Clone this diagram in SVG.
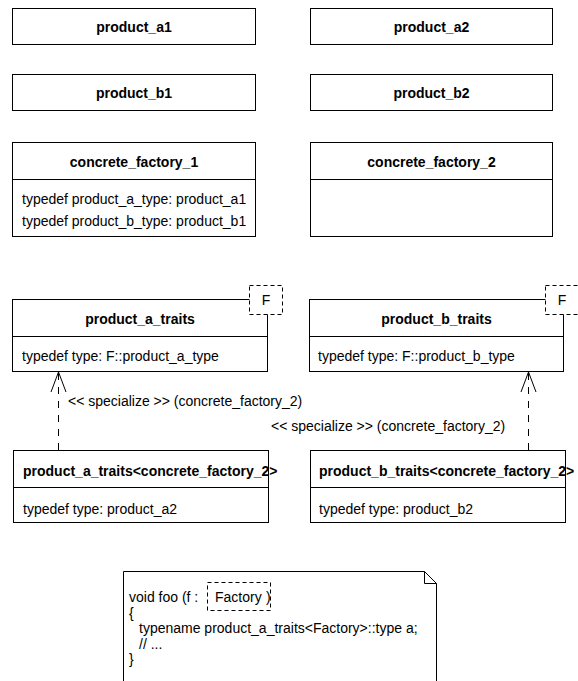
<svg xmlns="http://www.w3.org/2000/svg" width="578" height="681" viewBox="0 0 578 681">
<style>
.box{fill:#fff;stroke:#000;stroke-width:1}
.ln{fill:none;stroke:#000;stroke-width:1}
.dash{fill:#fff;stroke:#000;stroke-width:1;stroke-dasharray:4,3}
.dl{fill:none;stroke:#000;stroke-width:1;stroke-dasharray:7,7}
text{font-family:"Liberation Sans",Arial,sans-serif;font-size:14px;fill:#000}
.t{font-weight:bold;text-anchor:middle}
.tb{font-weight:bold}
</style>
<rect width="578" height="681" fill="#fff"/>
<g id="product_a1"><rect class="box" x="12.5" y="8.5" width="243" height="36"/><text class="t" x="134" y="32">product_a1</text></g>
<g id="product_a2"><rect class="box" x="310.5" y="8.5" width="242" height="36"/><text class="t" x="431.5" y="32">product_a2</text></g>
<g id="product_b1"><rect class="box" x="12.5" y="74.5" width="243" height="36"/><text class="t" x="134" y="98">product_b1</text></g>
<g id="product_b2"><rect class="box" x="310.5" y="74.5" width="242" height="36"/><text class="t" x="431.5" y="98">product_b2</text></g>
<g id="concrete_factory_1"><rect class="box" x="12.5" y="142.5" width="243" height="94"/><line class="ln" x1="12.5" y1="179.5" x2="255.5" y2="179.5"/><text class="t" x="134" y="167">concrete_factory_1</text><text x="22" y="204">typedef product_a_type: product_a1</text><text x="22" y="226">typedef product_b_type: product_b1</text></g>
<g id="concrete_factory_2"><rect class="box" x="310.5" y="142.5" width="242" height="94"/><line class="ln" x1="310.5" y1="179.5" x2="552.5" y2="179.5"/><text class="t" x="431.5" y="167">concrete_factory_2</text></g>
<g id="product_a_traits"><rect class="box" x="12.5" y="299.5" width="255" height="72"/><line class="ln" x1="12.5" y1="336.5" x2="267.5" y2="336.5"/><rect class="dash" x="249.5" y="285.5" width="33" height="29"/><text x="266" y="305" text-anchor="middle">F</text><text class="t" x="140" y="324">product_a_traits</text><text x="22" y="361">typedef type: F::product_a_type</text></g>
<g id="product_b_traits"><rect class="box" x="309.5" y="299.5" width="254" height="72"/><line class="ln" x1="309.5" y1="336.5" x2="563.5" y2="336.5"/><rect class="dash" x="545.5" y="285.5" width="33" height="29"/><text x="562" y="305" text-anchor="middle">F</text><text class="t" x="436.5" y="324">product_b_traits</text><text x="318" y="361">typedef type: F::product_b_type</text></g>
<g id="product_a_traits_cf2"><rect class="box" x="13.5" y="450.5" width="255" height="72"/><line class="ln" x1="13.5" y1="487.5" x2="268.5" y2="487.5"/><text class="tb" x="23" y="476">product_a_traits&lt;concrete_factory_2&gt;</text><text x="23" y="514">typedef type: product_a2</text></g>
<g id="product_b_traits_cf2"><rect class="box" x="310.5" y="450.5" width="255" height="72"/><line class="ln" x1="310.5" y1="487.5" x2="565.5" y2="487.5"/><text class="tb" x="319" y="476">product_b_traits&lt;concrete_factory_2&gt;</text><text x="319" y="514">typedef type: product_b2</text></g>
<g id="connectors">
<line class="dl" x1="58.5" y1="450" x2="58.5" y2="373"/>
<polyline class="ln" points="51,392 58.5,372 66,392"/>
<text x="68" y="406">&lt;&lt; specialize &gt;&gt; (concrete_factory_2)</text>
<line class="dl" x1="528.5" y1="450" x2="528.5" y2="373"/>
<polyline class="ln" points="521,392 528.5,372 536,392"/>
<text x="271" y="431">&lt;&lt; specialize &gt;&gt; (concrete_factory_2)</text>
</g>
<g id="note">
<path class="box" d="M123.5,690 V571.5 H424.5 L436.5,583.5 V690"/>
<polyline class="ln" points="424.5,571.5 424.5,583.5 436.5,583.5"/>
<rect class="dash" x="207.5" y="582.5" width="63" height="28"/>
<text x="129" y="602">void foo (f :</text>
<text x="215" y="602">Factory</text>
<text x="266" y="602">)</text>
<text x="129" y="618">{</text>
<text x="139" y="633">typename product_a_traits&lt;Factory&gt;::type a;</text>
<text x="139" y="649">// ...</text>
<text x="129" y="664">}</text>
</g>
</svg>
